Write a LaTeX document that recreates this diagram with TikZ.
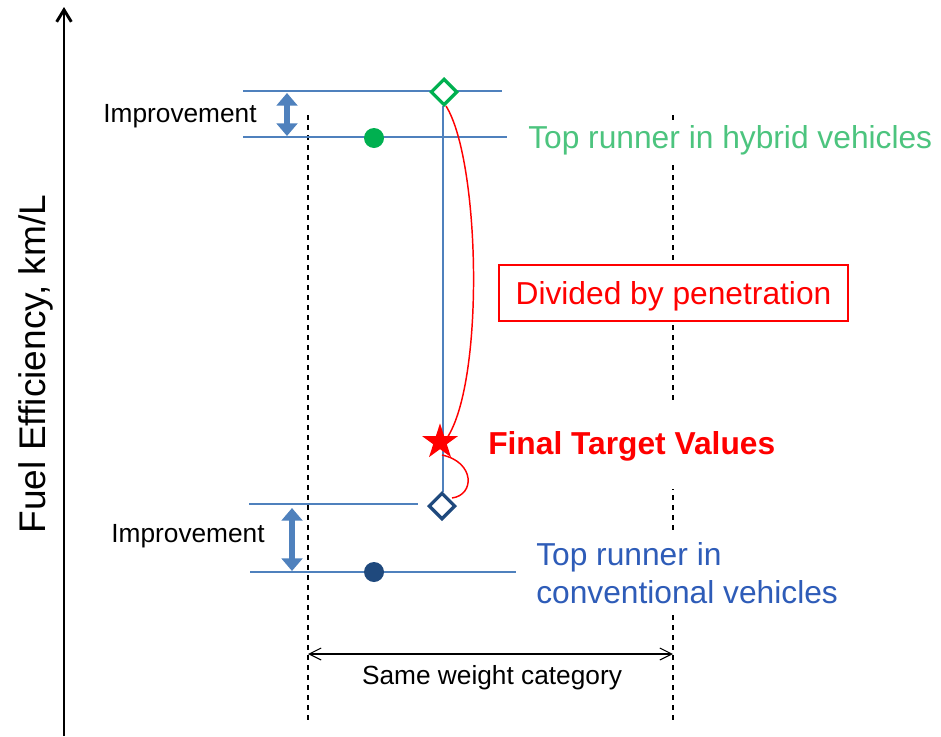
\documentclass[tikz,border=0pt]{standalone}
\usepackage{fontspec}
\setmainfont{Liberation Sans}
\usetikzlibrary{arrows.meta,shapes.geometric}
\definecolor{lineblue}{RGB}{79,129,189}
\definecolor{darkblue}{RGB}{31,73,125}
\definecolor{hgreen}{RGB}{0,176,80}
\definecolor{txtgreen}{RGB}{76,196,126}
\definecolor{txtblue}{RGB}{46,92,184}
\definecolor{vred}{RGB}{255,0,0}
\begin{document}
\begin{tikzpicture}[x=0.75pt,y=-0.75pt,
  level/.style={draw=lineblue,line width=1.5pt},
  guide/.style={draw=black,line width=0.8pt,dash pattern=on 4pt off 3.5pt},
  bigarrow/.style={draw=lineblue,line width=3.8pt,{Triangle[width=15.5pt,length=9.5pt]}-{Triangle[width=15.5pt,length=9.5pt]}},
  marker/.style={diamond,draw,fill=white,line width=2.5pt,minimum width=20pt,minimum height=20pt,inner sep=0pt},
  dot/.style={circle,inner sep=0pt,minimum size=15pt},
  lbl/.style={font=\fontsize{19.7}{23}\selectfont,inner sep=0pt},
  big/.style={font=\fontsize{23.8}{28.5}\selectfont},
  redline/.style={draw=vred,line width=1.1pt}
]
\useasboundingbox (0,0) rectangle (941,736);
% named coordinates
\coordinate (t1l) at (243,91);  \coordinate (t1r) at (502,91);
\coordinate (t2l) at (243,137); \coordinate (t2r) at (507,137);
\coordinate (b1l) at (249,504); \coordinate (b1r) at (418,504);
\coordinate (b2l) at (250,572); \coordinate (b2r) at (516,572);
\coordinate (gl1) at (308,115); \coordinate (gl2) at (308,722);
\coordinate (gr1) at (673,115); \coordinate (gr2) at (673,722);
\coordinate (ax0) at (64,736);  \coordinate (ax1) at (64,7);
\coordinate (ua1) at (287,93);  \coordinate (ua2) at (287,136);
\coordinate (la1) at (292,508); \coordinate (la2) at (292,571);
\coordinate (sw1) at (308,654); \coordinate (sw2) at (673,654);
\coordinate (vtop) at (443,106); \coordinate (vbot) at (443,492);
\coordinate (c1a) at (446,106); \coordinate (c1b) at (447,438);
\coordinate (c2a) at (442,455); \coordinate (c2b) at (452,498);

% axis
\draw[line width=2.2pt,-{Straight Barb[length=9pt,width=11pt]}] (ax0) -- (ax1);
\node[rotate=90,anchor=base,inner sep=0pt,font=\fontsize{27.8}{33}\selectfont] (ylab) at (45,364) {Fuel Efficiency, km/L};

% guides
\draw[guide] (gl1) -- (gl2);
\draw[guide] (gr1) -- (gr2);

% level lines
\draw[level] (t1l) -- (t1r);
\draw[level] (t2l) -- (t2r);
\draw[level] (b1l) -- (b1r);
\draw[level] (b2l) -- (b2r);

% improvement arrows
\draw[bigarrow] (ua1) -- (ua2);
\draw[bigarrow] (la1) -- (la2);
\node[lbl] (imp1) at (180,116) {Improvement};
\node[lbl] (imp2) at (188,536) {Improvement};

% vertical link and red curves
\draw[draw=lineblue,line width=1.1pt] (vtop) -- (vbot);
\draw[redline] (c1a) .. controls (480,160) and (485,380) .. (c1b);
\draw[redline] (c2a) .. controls (475,462) and (475,495) .. (c2b);

% markers
\node[marker,draw=hgreen] (gd) at (444,92) {};
\node[marker,draw=darkblue] (bd) at (442,506) {};
\node[dot,fill=hgreen] (gdot) at (374,138) {};
\node[dot,fill=darkblue] (bdot) at (374,572) {};
\node[star,star points=5,star point ratio=2.618,fill=vred,minimum size=28pt,inner sep=0pt] (st) at (440,442) {};

% texts
\node[big,text=txtgreen,fill=white,anchor=west,inner xsep=0pt,minimum height=30pt] (hyb) at (528,140) {Top runner in hybrid vehicles};
\node[big,draw=vred,line width=1.1pt,fill=white,text=vred,minimum width=261.75pt,minimum height=42pt,inner sep=0pt] (div) at (673.5,293) {\raisebox{-2.25pt}[\height][\depth]{Divided by penetration}};
\node[big,text=vred,anchor=west,fill=white,inner xsep=0pt,minimum height=64.5pt] (ftv) at (488,446) {\bfseries Final Target Values};
\node[big,text=txtblue,align=left,anchor=west,fill=white,inner xsep=0pt,minimum height=63pt] (conv) at (536,573) {Top runner in\\conventional vehicles};

% same weight category
\draw[line width=0.8pt,{Straight Barb[length=9pt,width=9pt]}-{Straight Barb[length=9pt,width=9pt]}] (sw1) -- (sw2);
\node[lbl] (swc) at (492,678) {Same weight category};
\end{tikzpicture}
\end{document}
